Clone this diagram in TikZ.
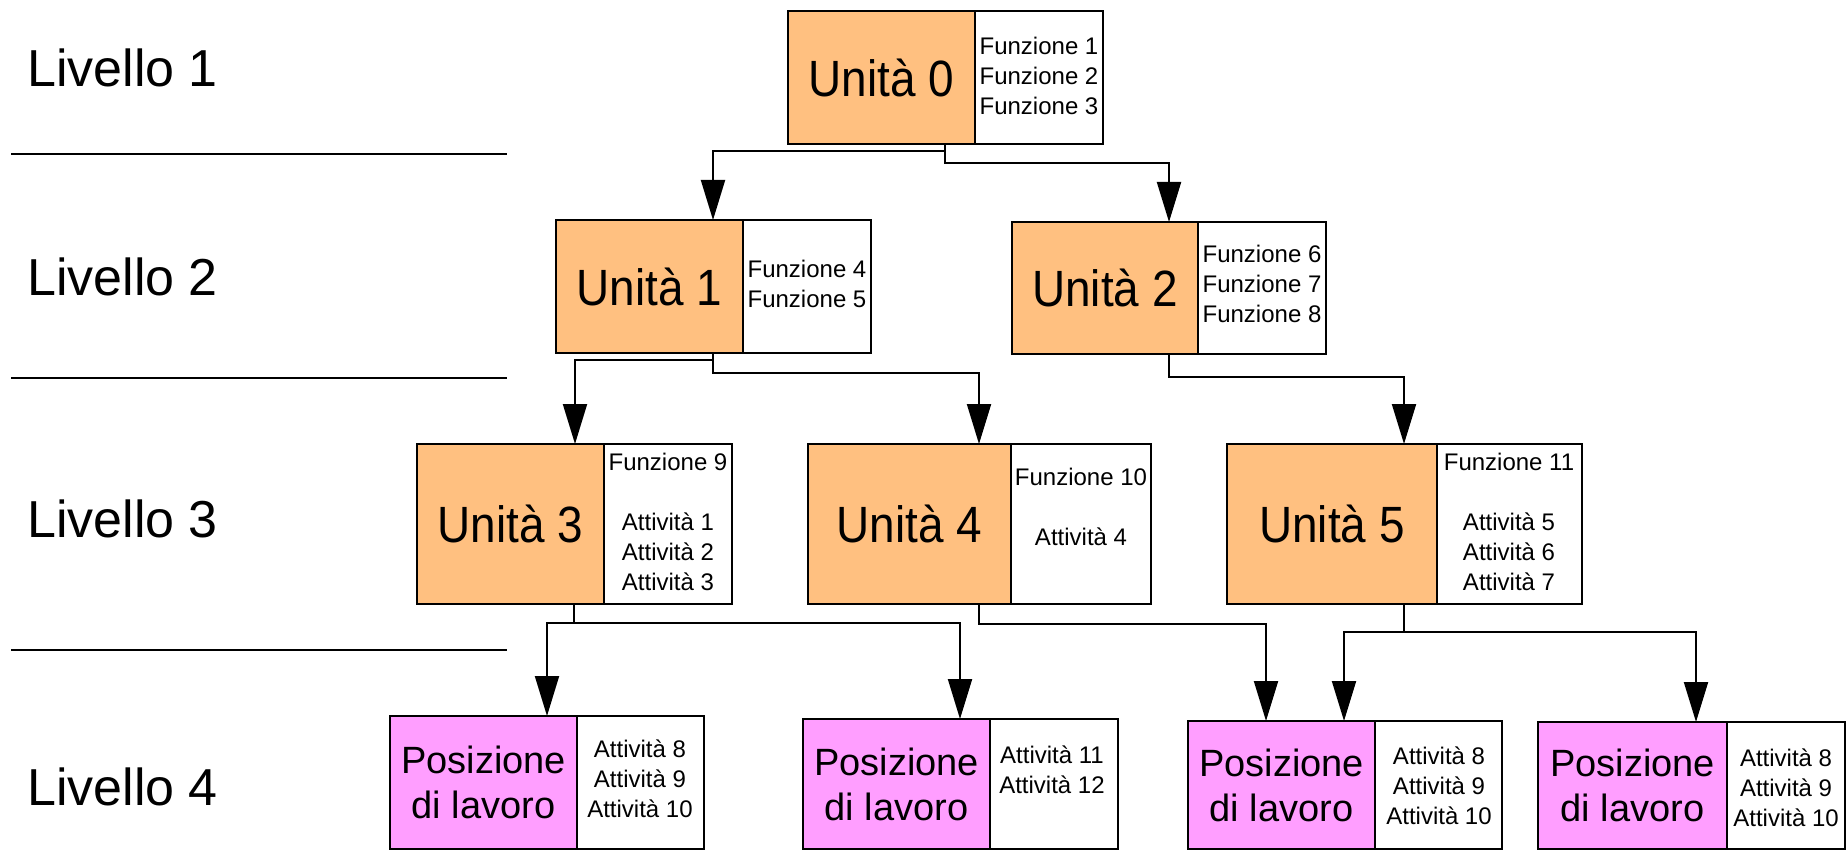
\documentclass[tikz,border=0pt]{standalone}
\usepackage{fontspec}
\setmainfont{Liberation Sans}
\newfontfamily\condfont[FakeStretch=0.9]{Liberation Sans}
\usetikzlibrary{arrows.meta}
\definecolor{unitorange}{HTML}{FFC080}
\definecolor{pospink}{HTML}{FF9EFF}
\tikzset{
  box/.style={draw=black, line width=2pt, inner sep=0pt, outer sep=0pt, anchor=north west},
  unitbox/.style={box, fill=unitorange, font=\condfont\fontsize{51}{60}\selectfont},
  posbox/.style={box, fill=pospink, align=center, font=\fontsize{38}{45}\selectfont},
  infobox/.style={box, fill=white},
  infotext/.style={inner sep=0pt, outer sep=0pt, anchor=base, font=\fontsize{24}{30}\selectfont},
  levtext/.style={inner sep=0pt, anchor=base west, font=\fontsize{52}{60}\selectfont},
  sepline/.style={line width=2pt},
  conn/.style={line width=2pt, -{Triangle[length=40pt,width=24pt]}},
}
\newcommand{\rows}[1]{\begin{tabular}[t]{@{}c@{}}#1\end{tabular}}
\begin{document}
\begin{tikzpicture}[x=1pt,y=-1pt]
\useasboundingbox (0,0) rectangle (1847,850);

% level labels and separators
\node[levtext] (l1) at (27,87) {Livello 1};
\node[levtext] (l2) at (27,295) {Livello 2};
\node[levtext] (l3) at (27,537) {Livello 3};
\node[levtext] (l4) at (27,805) {Livello 4};
\draw[sepline] (11,154) -- (507,154);
\draw[sepline] (11,378) -- (507,378);
\draw[sepline] (11,650) -- (507,650);

% units
\node[unitbox, minimum width=187pt, minimum height=133pt] (u0) at (788,11) {Unità 0};
\node[infobox, minimum width=128pt, minimum height=133pt] (u0f) at (975,11) {};
\node[unitbox, minimum width=187pt, minimum height=133pt] (u1) at (556,220) {Unità 1};
\node[infobox, minimum width=128pt, minimum height=133pt] (u1f) at (743,220) {};
\node[unitbox, minimum width=186pt, minimum height=132pt] (u2) at (1012,222) {Unità 2};
\node[infobox, minimum width=128pt, minimum height=132pt] (u2f) at (1198,222) {};
\node[unitbox, minimum width=187pt, minimum height=160pt] (u3) at (417,444) {Unità 3};
\node[infobox, minimum width=128pt, minimum height=160pt] (u3f) at (604,444) {};
\node[unitbox, minimum width=203pt, minimum height=160pt] (u4) at (808,444) {Unità 4};
\node[infobox, minimum width=140pt, minimum height=160pt] (u4f) at (1011,444) {};
\node[unitbox, minimum width=210pt, minimum height=160pt] (u5) at (1227,444) {Unità 5};
\node[infobox, minimum width=145pt, minimum height=160pt] (u5f) at (1437,444) {};

% positions
\node[posbox, minimum width=187pt, minimum height=133pt] (p1) at (390,716) {Posizione\\di lavoro};
\node[infobox, minimum width=127pt, minimum height=133pt] (p1f) at (577,716) {};
\node[posbox, minimum width=187pt, minimum height=130pt] (p2) at (803,719) {Posizione\\di lavoro};
\node[infobox, minimum width=128pt, minimum height=130pt] (p2f) at (990,719) {};
\node[posbox, minimum width=187pt, minimum height=128pt] (p3) at (1188,721) {Posizione\\di lavoro};
\node[infobox, minimum width=127pt, minimum height=128pt] (p3f) at (1375,721) {};
\node[posbox, minimum width=189pt, minimum height=127pt] (p4) at (1538,722) {Posizione\\di lavoro};
\node[infobox, minimum width=118pt, minimum height=127pt] (p4f) at (1727,722) {};

% info texts
\node[infotext] (t0) at (1039,55) {\rows{Funzione 1\\Funzione 2\\Funzione 3}};
\node[infotext] (t1) at (807,278) {\rows{Funzione 4\\Funzione 5}};
\node[infotext] (t2) at (1262,263) {\rows{Funzione 6\\Funzione 7\\Funzione 8}};
\node[infotext] (t3) at (668,470) {\rows{Funzione 9\\ \\Attività 1\\Attività 2\\Attività 3}};
\node[infotext] (t4) at (1081,485) {\rows{Funzione 10\\ \\Attività 4}};
\node[infotext] (t5) at (1509,470) {\rows{Funzione 11\\ \\Attività 5\\Attività 6\\Attività 7}};
\node[infotext] (tp1) at (640,757) {\rows{Attività 8\\Attività 9\\Attività 10}};
\node[infotext] (tp2) at (1052,763) {\rows{Attività 11\\Attività 12}};
\node[infotext] (tp3) at (1439,764) {\rows{Attività 8\\Attività 9\\Attività 10}};
\node[infotext] (tp4) at (1786,766) {\rows{Attività 8\\Attività 9\\Attività 10}};

% connectors
\draw[conn] ([xshift=157pt]u0.south west) -- ++(0,7) -| ([xshift=157pt]u1.north west);
\draw[conn] ([xshift=157pt]u0.south west) -- ++(0,19) -| ([xshift=157pt]u2.north west);
\draw[conn] ([xshift=157pt]u1.south west) -- ++(0,7) -| ([xshift=158pt]u3.north west);
\draw[conn] ([xshift=157pt]u1.south west) -- ++(0,20) -| ([xshift=171pt]u4.north west);
\draw[conn] ([xshift=157pt]u2.south west) -- ++(0,23) -| ([xshift=177pt]u5.north west);
\draw[conn] ([xshift=157pt]u3.south west) -- ++(0,19) -| ([xshift=157pt]p1.north west);
\draw[conn] ([xshift=157pt]u3.south west) -- ++(0,19) -| ([xshift=157pt]p2.north west);
\draw[conn] ([xshift=171pt]u4.south west) -- ++(0,20) -| ([xshift=78pt]p3.north west);
\draw[conn] ([xshift=177pt]u5.south west) -- ++(0,28) -| ([xshift=156pt]p3.north west);
\draw[conn] ([xshift=177pt]u5.south west) -- ++(0,28) -| ([xshift=158pt]p4.north west);
\end{tikzpicture}
\end{document}
